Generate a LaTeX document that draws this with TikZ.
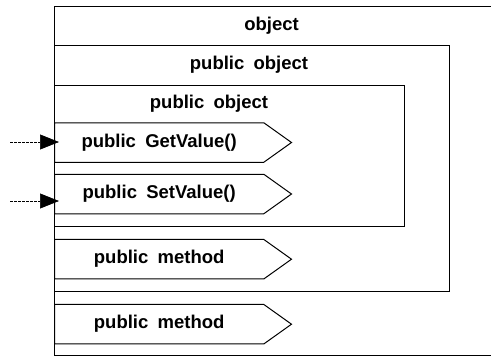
\documentclass[tikz,border=0pt]{standalone}
\usepackage{fontspec}
\setmainfont{Liberation Sans}[WordSpace=1.8]
\usetikzlibrary{shapes.symbols,arrows.meta,positioning}

\begin{document}
\begin{tikzpicture}[x=1pt, y=-1pt, line width=1pt,
        every node/.style={font=\fontsize{18.5}{20}\selectfont\bfseries},
        method/.style={draw, shape=signal, signal to=east, signal pointer angle=71,
            minimum width=237pt, minimum height=39.5pt, inner sep=0pt, anchor=west},
        call/.style={-{Triangle[length=19pt,width=15pt]}, line width=0.6pt,
            dash pattern=on 2.5pt off 1.5pt, shorten >=-5pt}]
        \useasboundingbox (0,0) rectangle (491,357);

        % Draw the object frames
        \draw (491,6) -- (54,6) -- (54,355) -- (491,355);
        \draw (54,45) rectangle (449,291.7);
        \draw (54,85) rectangle (404,226.7);

        % Titles of the frames
        \node (obj) at (271.5,25.5) {object};
        \node (pobj) at (249,65) {public object};
        \node (iobj) at (209,103.5) {public object};

        % Draw the methods
        \foreach \nm/\y/\txt in {get/142.5/public GetValue(), set/194/public SetValue(),
                mthA/259.2/public method, mthB/324.2/public method}{
            \node[method] (\nm) at (54,\y) {\txt};
        }

        % Incoming calls
        \coordinate (inA) at (10,142);
        \coordinate (inB) at (10,201);
        \draw[call] (inA) -- (get.west |- inA);
        \draw[call] (inB) -- (set.west |- inB);
\end{tikzpicture}
\end{document}
